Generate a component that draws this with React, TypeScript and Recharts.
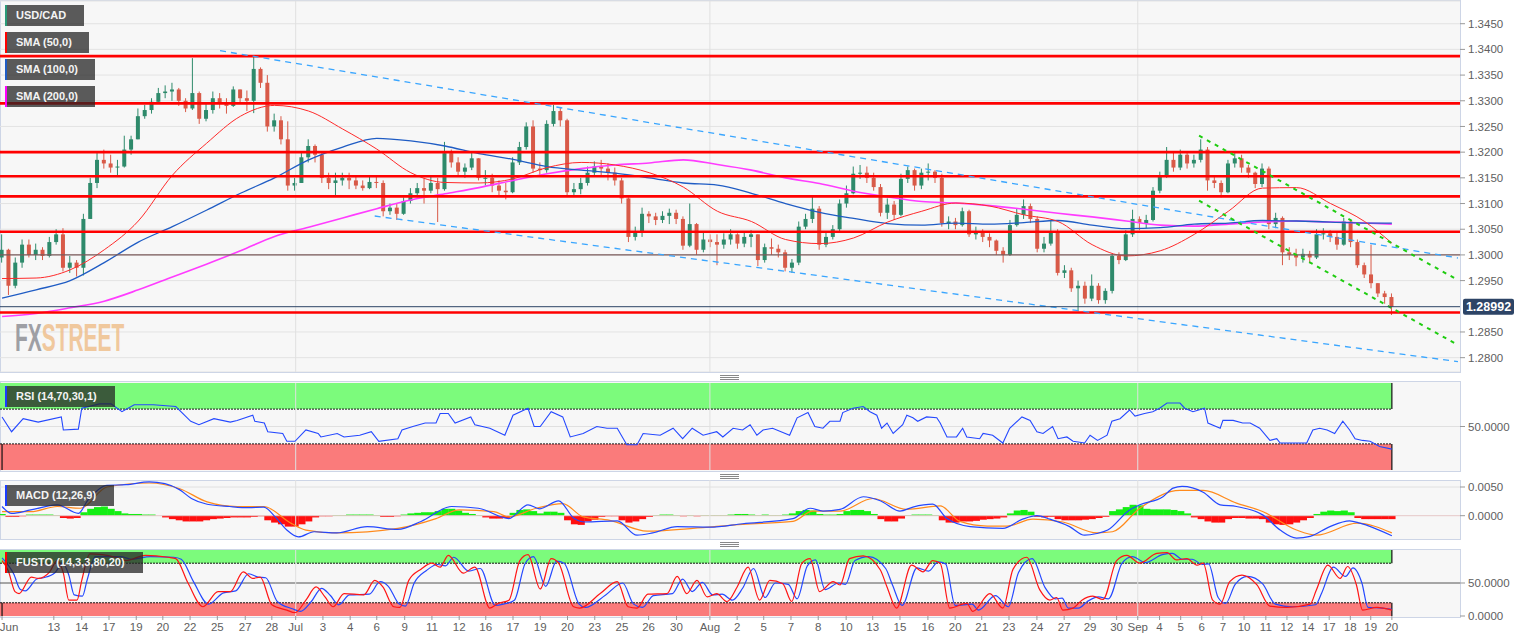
import React from "react";
import {
  ComposedChart,
  Bar,
  Line,
  XAxis,
  YAxis,
  CartesianGrid,
  ReferenceLine,
  ReferenceArea,
} from "recharts";

// ---- price data (4h candles, index = candle number) ----
const OPEN_FIRST = 1.2995;
const CLOSE = [
  1.3010, 1.2940, 1.2985, 1.3020, 1.3000, 1.3010, 1.2998, 1.3025, 1.3040, 1.2975,
  1.2985, 1.2975, 1.3070, 1.3140, 1.3185, 1.3178, 1.3170, 1.3172, 1.3205, 1.3225,
  1.3270, 1.3282, 1.3298, 1.3315, 1.3318, 1.3322, 1.3300, 1.3285, 1.3315, 1.3265,
  1.3282, 1.3305, 1.3295, 1.3290, 1.3322, 1.3305, 1.3300, 1.3362, 1.3335, 1.3250,
  1.3262, 1.3225, 1.3135, 1.3140, 1.3190, 1.3212, 1.3195, 1.3150, 1.3140, 1.3145,
  1.3150, 1.3145, 1.3135, 1.3130, 1.3142, 1.3140, 1.3085, 1.3092, 1.3080, 1.3105,
  1.3120, 1.3130, 1.3125, 1.3140, 1.3128, 1.3198, 1.3180, 1.3162, 1.3170, 1.3188,
  1.3150, 1.3150, 1.3135, 1.3125, 1.3122, 1.3180, 1.3210, 1.3250, 1.3168, 1.3165,
  1.3255, 1.3280, 1.3262, 1.3122, 1.3128, 1.3140, 1.3160, 1.3172, 1.3168, 1.3160,
  1.3145, 1.3110, 1.3035, 1.3045, 1.3080, 1.3075, 1.3068, 1.3076, 1.3082, 1.3070,
  1.3018, 1.3060, 1.3010, 1.3030, 1.3025, 1.3020, 1.3030, 1.3040, 1.3022, 1.3035,
  1.3040, 1.2990, 1.3015, 1.3012, 1.3005, 1.2975, 1.2985, 1.3055, 1.3070, 1.3090,
  1.3020, 1.3035, 1.3050, 1.3100, 1.3120, 1.3158, 1.3160, 1.3150, 1.3132, 1.3082,
  1.3098, 1.3078, 1.3148, 1.3165, 1.3135, 1.3160, 1.3162, 1.3150, 1.3062, 1.3065,
  1.3058, 1.3085, 1.3040, 1.3045, 1.3035, 1.3028, 1.3008, 1.3000, 1.3058, 1.3078,
  1.3095, 1.3070, 1.3012, 1.3022, 1.3045, 1.2965, 1.2970, 1.2935, 1.2940, 1.2915,
  1.2940, 1.2912, 1.2930, 1.2998, 1.2990, 1.3040, 1.3070, 1.3062, 1.3068, 1.3125,
  1.3155, 1.3185, 1.3170, 1.3195, 1.3178, 1.3185, 1.3205, 1.3145, 1.3140, 1.3122,
  1.3178, 1.3188, 1.3170, 1.3160, 1.3138, 1.3168, 1.3060, 1.3072, 1.3005, 1.3000,
  1.2995, 1.3002, 1.2995, 1.3040, 1.3042, 1.3035, 1.3020, 1.3065, 1.3025, 1.2980,
  1.2962, 1.2945, 1.2925, 1.2918, 1.2899,
];
const HIGH = [
  1.3040, 1.3012, 1.2995, 1.3030, 1.3030, 1.3022, 1.3015, 1.3035, 1.3050, 1.3052,
  1.2998, 1.2990, 1.3080, 1.3150, 1.3200, 1.3205, 1.3195, 1.3185, 1.3232, 1.3232,
  1.3285, 1.3292, 1.3305, 1.3325, 1.3330, 1.3335, 1.3325, 1.3305, 1.3383, 1.3318,
  1.3295, 1.3318, 1.3315, 1.3305, 1.3328, 1.3320, 1.3320, 1.3385, 1.3365, 1.3350,
  1.3275, 1.3270, 1.3260, 1.3150, 1.3200, 1.3225, 1.3215, 1.3200, 1.3160, 1.3160,
  1.3160, 1.3160, 1.3155, 1.3145, 1.3155, 1.3152, 1.3145, 1.3100, 1.3100, 1.3112,
  1.3130, 1.3140, 1.3150, 1.3155, 1.3150, 1.3220, 1.3205, 1.3190, 1.3178, 1.3200,
  1.3185, 1.3165, 1.3158, 1.3145, 1.3140, 1.3190, 1.3220, 1.3258, 1.3262, 1.3180,
  1.3262, 1.3292, 1.3288, 1.3265, 1.3140, 1.3150, 1.3172, 1.3182, 1.3185, 1.3178,
  1.3170, 1.3150, 1.3112, 1.3055, 1.3092, 1.3085, 1.3082, 1.3085, 1.3090, 1.3088,
  1.3075, 1.3100, 1.3062, 1.3045, 1.3040, 1.3040, 1.3042, 1.3050, 1.3042, 1.3045,
  1.3048, 1.3040, 1.3022, 1.3032, 1.3020, 1.3010, 1.2992, 1.3065, 1.3080, 1.3113,
  1.3095, 1.3045, 1.3058, 1.3108, 1.3135, 1.3172, 1.3175, 1.3172, 1.3160, 1.3138,
  1.3110, 1.3105, 1.3158, 1.3172, 1.3168, 1.3168, 1.3178, 1.3165, 1.3158, 1.3075,
  1.3072, 1.3092, 1.3088, 1.3055, 1.3050, 1.3042, 1.3030, 1.3015, 1.3068, 1.3090,
  1.3108, 1.3100, 1.3075, 1.3035, 1.3068, 1.3050, 1.2980, 1.2975, 1.2950, 1.2948,
  1.2962, 1.2945, 1.2935, 1.3002, 1.3005, 1.3048, 1.3088, 1.3075, 1.3078, 1.3132,
  1.3162, 1.3210, 1.3200, 1.3205, 1.3200, 1.3195, 1.3225, 1.3210, 1.3155, 1.3145,
  1.3185, 1.3198, 1.3195, 1.3175, 1.3162, 1.3178, 1.3172, 1.3082, 1.3075, 1.3015,
  1.3012, 1.3012, 1.3008, 1.3050, 1.3052, 1.3048, 1.3045, 1.3072, 1.3068, 1.3030,
  1.2985, 1.3020, 1.2945, 1.2930, 1.2925,
];
const LOW = [
  1.2985, 1.2922, 1.2935, 1.2975, 1.2995, 1.2990, 1.2990, 1.2995, 1.3020, 1.2968,
  1.2965, 1.2958, 1.2960, 1.3090, 1.3130, 1.3168, 1.3160, 1.3155, 1.3170, 1.3195,
  1.3225, 1.3265, 1.3275, 1.3295, 1.3305, 1.3300, 1.3290, 1.3278, 1.3282, 1.3255,
  1.3260, 1.3275, 1.3285, 1.3275, 1.3288, 1.3295, 1.3280, 1.3276, 1.3325, 1.3240,
  1.3240, 1.3215, 1.3125, 1.3125, 1.3140, 1.3180, 1.3180, 1.3140, 1.3128, 1.3113,
  1.3135, 1.3128, 1.3128, 1.3125, 1.3128, 1.3130, 1.3075, 1.3078, 1.3068, 1.3078,
  1.3100, 1.3112, 1.3100, 1.3120, 1.3064, 1.3125, 1.3170, 1.3155, 1.3150, 1.3165,
  1.3145, 1.3135, 1.3122, 1.3115, 1.3108, 1.3120, 1.3175, 1.3205, 1.3160, 1.3155,
  1.3160, 1.3250, 1.3250, 1.3115, 1.3115, 1.3118, 1.3135, 1.3155, 1.3155, 1.3145,
  1.3135, 1.3100, 1.3025, 1.3028, 1.3035, 1.3062, 1.3058, 1.3062, 1.3060, 1.3060,
  1.3010, 1.3015, 1.3000, 1.3005, 1.3015, 1.2980, 1.3012, 1.3020, 1.3012, 1.3015,
  1.3015, 1.2978, 1.2985, 1.3000, 1.2995, 1.2968, 1.2965, 1.2980, 1.3050, 1.3062,
  1.3010, 1.3015, 1.3030, 1.3045, 1.3092, 1.3118, 1.3148, 1.3140, 1.3125, 1.3075,
  1.3070, 1.3068, 1.3075, 1.3140, 1.3125, 1.3128, 1.3145, 1.3140, 1.3055, 1.3050,
  1.3050, 1.3055, 1.3035, 1.3030, 1.3025, 1.3015, 1.3000, 1.2985, 1.2998, 1.3055,
  1.3070, 1.3062, 1.3005, 1.3005, 1.3018, 1.2960, 1.2955, 1.2928, 1.2890, 1.2905,
  1.2910, 1.2905, 1.2905, 1.2925, 1.2982, 1.2988, 1.3035, 1.3048, 1.3052, 1.3065,
  1.3120, 1.3150, 1.3162, 1.3165, 1.3168, 1.3170, 1.3180, 1.3125, 1.3130, 1.3112,
  1.3120, 1.3170, 1.3160, 1.3150, 1.3130, 1.3132, 1.3050, 1.3052, 1.2980, 1.2990,
  1.2978, 1.2985, 1.2985, 1.2992, 1.3030, 1.3025, 1.3010, 1.3018, 1.3015, 1.2975,
  1.2955, 1.2935, 1.2918, 1.2905, 1.2883,
];

// moving averages read every 5 candles
const SMA_AT = [0, 5, 10, 15, 20, 25, 30, 35, 40, 45, 50, 55, 60, 65, 70, 75, 80, 85, 90, 95, 100,
  105, 110, 115, 120, 125, 130, 135, 140, 145, 150, 155, 160, 165, 170, 175, 180, 185, 190, 195, 200, 204];
const SMA50 = [1.2954, 1.2955, 1.2971, 1.3010, 1.3066, 1.3155, 1.3217, 1.3270, 1.3291, 1.3280, 1.3245,
  1.3206, 1.3160, 1.3141, 1.3140, 1.3148, 1.3170, 1.3180, 1.3175, 1.3160, 1.3132, 1.3085, 1.3065,
  1.3030, 1.3022, 1.3033, 1.3064, 1.3085, 1.3101, 1.3095, 1.3078, 1.3065, 1.3020, 1.2998, 1.3008,
  1.3040, 1.3085, 1.3130, 1.3131, 1.3100, 1.3065, 1.3023];
const SMA100 = [1.2916, 1.2932, 1.2950, 1.2985, 1.3025, 1.3055, 1.3087, 1.3120, 1.3150, 1.3185, 1.3210,
  1.3227, 1.3222, 1.3212, 1.3197, 1.3186, 1.3172, 1.3165, 1.3159, 1.3150, 1.3140, 1.3136, 1.3120,
  1.3100, 1.3083, 1.3071, 1.3061, 1.3058, 1.3062, 1.3060, 1.3063, 1.3067, 1.3058, 1.3051, 1.3053,
  1.3060, 1.3062, 1.3067, 1.3066, 1.3064, 1.3062, 1.3062];
const SMA200 = [1.2880, 1.2886, 1.2897, 1.2910, 1.2932, 1.2957, 1.2982, 1.3008, 1.3036, 1.3054, 1.3072,
  1.3090, 1.3107, 1.3119, 1.3131, 1.3145, 1.3158, 1.3168, 1.3175, 1.3179, 1.3185, 1.3176, 1.3165,
  1.3150, 1.3139, 1.3124, 1.3113, 1.3104, 1.3101, 1.3096, 1.3089, 1.3081, 1.3074, 1.3066, 1.3058,
  1.3056, 1.3060, 1.3064, 1.3066, 1.3064, 1.3062, 1.3060];

const LEVELS = [1.3387, 1.3295, 1.32, 1.3153, 1.3114, 1.3045, 1.2888];
const ROUND_LEVEL = 1.3;
const LAST_PRICE = 1.28992;
// trend lines: [fromIndex, fromPrice, toIndex, toPrice]
const BLUE_LINES = [
  [32, 1.33975, 213.7, 1.2994],
  [54.7, 1.30757, 213.7, 1.27922],
];
const GREEN_LINES = [
  [175.7, 1.3232, 213.7, 1.2951],
  [175.7, 1.31055, 213.7, 1.28247],
];
// 1.2900 is hidden behind the last-price tag
const PRICE_TICKS = [1.28, 1.285, 1.295, 1.3, 1.305, 1.31, 1.315, 1.32, 1.325, 1.33, 1.335, 1.34, 1.345];

const TICK_AT = [0, 7.6, 11.7, 15.7, 19.7, 23.6, 27.6, 31.6, 35.7, 39.6, 43.1, 47.1, 51.1, 55.0, 59.1,
  63.1, 67.1, 71.0, 75.0, 79.0, 83.0, 87.0, 91.0, 94.9, 99.0, 103.9, 107.9, 111.8, 115.8, 119.8,
  123.9, 127.8, 131.8, 135.9, 139.9, 143.8, 147.8, 151.9, 155.9, 159.7, 163.6, 166.7, 169.9, 173.0,
  176.1, 179.2, 182.3, 185.5, 188.6, 191.7, 194.8, 197.9, 200.9, 204];
const TICK_LABEL = ["Jun", "13", "14", "17", "19", "20", "22", "25", "27", "28", "Jul", "3", "4", "6", "9",
  "11", "12", "16", "17", "19", "20", "23", "25", "26", "30", "Aug", "2", "5", "7", "8",
  "10", "13", "15", "16", "20", "21", "23", "24", "27", "29", "30", "Sep", "4", "5",
  "6", "7", "10", "11", "12", "14", "17", "18", "19", "20"];
const MONTH_AT = [43.1, 103.9, 166.7];

// ---- oscillators: [candle index, value] ----
const RSI = [
  [0, 61], [1.4, 44], [3.1, 59], [5.3, 55], [8.7, 61], [9, 46], [11.2, 47], [11.7, 71], [14.3, 76], [16, 76],
  [17.6, 67], [19.4, 75], [22.2, 75], [25.5, 73], [27.7, 56], [28.9, 52], [31.1, 59], [33.5, 55], [34.5, 57],
  [36.8, 63], [37.1, 56], [38.5, 54], [39, 44], [41.2, 42], [41.8, 33], [43, 33], [44.6, 46], [46.4, 42],
  [46.8, 38], [49.2, 42], [50.2, 38], [52.5, 40], [54.2, 44], [55.3, 33], [58.1, 36], [58.7, 46], [60.3, 50],
  [62.1, 54], [63.7, 54], [64.3, 65], [65.5, 65], [66.5, 54], [68.8, 61], [69.4, 52], [71.6, 48], [73.8, 40],
  [75, 63], [77.2, 71], [78.1, 50], [79, 50], [80.6, 67], [82.3, 61], [83.4, 38], [85.3, 42], [87.3, 50],
  [88.8, 48], [90.3, 48], [91.7, 29], [93.2, 29], [94.1, 42], [96.6, 40], [98.5, 48], [99.9, 36], [101.3, 48],
  [102.9, 40], [104.9, 44], [105.8, 38], [107.3, 48], [108.7, 46], [109.8, 52], [110.8, 40], [111.7, 46],
  [113.1, 48], [115.6, 40], [116.7, 60], [118.3, 66], [119.3, 50], [120.5, 48], [121.5, 56], [123, 56],
  [123.4, 66], [124.9, 71], [126.4, 73], [127.4, 67], [128.4, 63], [129.1, 48], [129.9, 54], [130.8, 42],
  [132.2, 52], [132.8, 63], [133.7, 60], [134.4, 56], [135.7, 61], [137.2, 60], [137.7, 54], [138.7, 38],
  [140.1, 38], [141, 48], [141.6, 38], [143.5, 36], [144, 42], [145.4, 40], [146.9, 31], [147.9, 48],
  [149.7, 61], [150.9, 57], [151.9, 44], [152.8, 42], [154.2, 50], [155, 36], [156.3, 38], [157.2, 33],
  [158.9, 31], [159.7, 40], [160.8, 34], [162.2, 40], [162.9, 56], [164.1, 59], [165.5, 69], [166.3, 62],
  [167.7, 65], [168.9, 67], [169.9, 71], [171, 77], [172.9, 77], [173.6, 71], [174.8, 67], [176.5, 71],
  [177, 54], [178.8, 48], [179.2, 57], [180.7, 57], [182.1, 54], [183.2, 54], [184.6, 48], [186.1, 34],
  [187.1, 36], [187.6, 31], [190, 31], [191.5, 31], [192.4, 46], [193.4, 48], [194.5, 46], [195.6, 42],
  [196.8, 56], [197.8, 46], [198.6, 36], [199.7, 34], [200.8, 33], [202.2, 27], [204, 24],
];
const MACD = [
  [0, 0.0016], [1.4, 0.0004], [4.2, 0.001], [8.1, 0.0019], [11.2, 0.0004], [12.6, 0.0027], [15.4, 0.0053],
  [18.2, 0.0054], [21.6, 0.0059], [23.9, 0.0056], [26.1, 0.0045], [27.8, 0.003], [30.1, 0.002], [33.4, 0.0016],
  [36.2, 0.0014], [38.4, 0.0015], [40.1, -0.0002], [41.8, -0.0025], [43.5, -0.0037], [45.8, -0.0028],
  [49.1, -0.003], [53.6, -0.0019], [58.1, -0.0024], [61.5, -0.001], [66, 0.0016], [69.9, 0.0013],
  [74.4, -0.0005], [77.2, 0.0019], [78.9, 0.0012], [81.7, 0.0026], [83.9, -0.0004], [85.6, -0.0011],
  [90.3, -0.0009], [93.2, -0.0034], [95.5, -0.003], [99.1, -0.0019], [103.9, -0.002], [108.7, -0.0014],
  [116.1, -0.0005], [118.6, 0.0013], [120.5, 0.0008], [123, 0.0011], [126.4, 0.0033], [128.9, 0.0026],
  [131.8, 0.0008], [133.7, 0.0015], [136.6, 0.002], [138.7, -0.0005], [142.1, -0.0019], [146.9, -0.0022],
  [149.8, -0.0006], [151.9, 0], [153.8, -0.0006], [156.7, -0.0019], [158.9, -0.0034], [160.7, -0.0031],
  [162.3, -0.0025], [165.5, 0.001], [167, 0.0019], [170.4, 0.0033], [171.9, 0.0048], [173.2, 0.0051],
  [176.3, 0.0041], [178.8, 0.0019], [181.2, 0.0016], [185.1, 0.0001], [187.6, -0.0025], [190, -0.0039],
  [192, -0.0036], [194.9, -0.0019], [197.8, -0.0009], [199.3, -0.0013], [204, -0.0035],
];
const SIGNAL = [
  [0, 0.0007], [4.2, 0.0007], [8.1, 0.0016], [11.5, 0.0013], [15.4, 0.005], [21.6, 0.0057], [26.1, 0.0047],
  [30.1, 0.0024], [34.5, 0.0016], [38.4, 0.0016], [42.4, -0.0013], [44.6, -0.0025], [49.1, -0.003],
  [58.1, -0.0022], [63.7, -0.0005], [67.1, 0.001], [72.2, 0.0007], [74.4, -0.0002], [78.4, 0.0013],
  [82.3, 0.0021], [85.3, -0.0002], [89.2, -0.0008], [94.7, -0.0027], [101.4, -0.0022], [108.7, -0.0015],
  [116.1, -0.001], [119, 0.0008], [123, 0.0008], [127.8, 0.003], [132.8, 0.0011], [137.7, 0.0017],
  [140.6, -0.001], [144.6, -0.0018], [147.5, -0.0018], [151.3, -0.0006], [155.7, -0.0011], [160.7, -0.003],
  [163, -0.0028], [167, 0.0013], [172.9, 0.0044], [176.3, 0.0044], [181.2, 0.0022], [185.1, 0.0007],
  [190, -0.0025], [192.9, -0.0034], [198.9, -0.0013], [204, -0.003],
];
// histogram per candle, in units of 0.0001
const HIST_E4 = [
  3, -2, -2, -1, 2, 2, 2, 2, 1, -4, -5, -4, 6, 12, 15, 16, 12, 8, 4, 3,
  3, 2, 2, 0, -3, -6, -8, -10, -10, -10, -8, -6, -5, -4, -3, -3, -3, -2, -1, -8,
  -12, -15, -19, -19, -15, -10, -3, -1, -1, 1, 1, 2, 2, 2, 2, 1, -2, -2, -1, 2,
  4, 5, 6, 6, 8, 12, 12, 9, 5, 3, 1, -3, -5, -5, -4, 5, 10, 11, 8, 4,
  7, 7, 5, -8, -15, -16, -10, -7, -2, -1, -1, -8, -12, -10, -6, -2, 1, 2, 2, 1,
  -1, 1, -1, 1, 1, 1, 1, 2, 3, 3, 2, 1, 2, 1, 1, 2, 4, 8, 10, 9,
  3, 2, 2, 3, 8, 10, 10, 8, 3, -6, -10, -10, -5, 1, 2, 2, 2, 1, -8, -12,
  -12, -10, -10, -9, -7, -6, -5, -3, 4, 9, 10, 7, -2, -3, -2, -6, -8, -8, -8, -7,
  -6, -4, -2, 8, 11, 15, 19, 18, 12, 11, 11, 11, 10, 8, 4, -3, -6, -10, -12, -12,
  -6, -4, -4, -5, -5, -6, -12, -15, -16, -15, -12, -8, -4, 3, 7, 9, 8, 9, 6, -4,
  -6, -6, -6, -6, -6,
];
const STOCH_K = [
  [0, 84], [0.9, 69], [1.9, 37], [2.5, 34], [4.3, 59], [5.3, 57], [7, 67], [8.1, 84], [9, 65], [9.8, 24],
  [11, 24], [11.7, 54], [12.9, 94], [16.6, 89], [18.2, 84], [21, 92], [24.4, 89], [25.5, 87], [27.3, 50],
  [29.5, 14], [31.7, 37], [33.5, 37], [35.4, 67], [36.8, 57], [37.9, 59], [39.6, 17], [41.8, 9], [43, 5],
  [44.6, 24], [46.1, 44], [47.4, 29], [48.6, 14], [50.2, 34], [53.1, 32], [54.7, 54], [55.9, 44], [57.5, 14],
  [58.4, 13], [59.7, 54], [61.5, 71], [63.1, 80], [64.3, 74], [65.5, 92], [67.7, 65], [69.4, 74], [71.6, 12],
  [72.8, 19], [74.4, 24], [76, 84], [77.2, 93], [79, 41], [80.6, 87], [81.7, 80], [83.9, 14], [84.8, 12],
  [87.8, 34], [90.3, 52], [91.9, 14], [93.2, 12], [94.8, 33], [97.6, 34], [99.1, 60], [100.5, 34], [102, 54],
  [103.5, 29], [104.9, 34], [106.4, 22], [107.9, 44], [109.5, 74], [111.2, 24], [112.7, 54], [114.6, 49],
  [115.9, 22], [117.4, 80], [118.6, 87], [120, 37], [122, 52], [123, 47], [124.4, 87], [126.4, 91],
  [128.9, 70], [129.9, 44], [131.3, 12], [133.5, 77], [135.2, 67], [136.6, 84], [137.7, 80], [139.1, 12],
  [141.6, 19], [142.5, 7], [145, 34], [146.9, 12], [148.4, 71], [150.4, 89], [152.3, 40], [153.8, 24],
  [154.8, 28], [155.7, 9], [157.2, 12], [158.5, 24], [160.1, 30], [161.6, 25], [163.6, 84], [165.1, 92],
  [167, 80], [169.5, 95], [171, 96], [172.4, 85], [173.9, 87], [175.4, 77], [176.3, 80], [177.7, 24],
  [178.8, 18], [180.2, 52], [182, 62], [184.2, 47], [186.1, 15], [188.6, 13], [192, 18], [192.9, 39],
  [194.6, 77], [196.4, 57], [197.5, 75], [198.8, 47], [199.7, 9], [201.8, 13], [204, 9],
];
const STOCH_D = [
  [0, 88], [1.7, 64], [2.7, 40], [3.4, 38], [5.1, 56], [6.1, 58], [7.8, 66], [8.9, 80], [9.8, 62], [10.6, 32],
  [11.8, 30], [12.5, 55], [13.7, 90], [17.4, 90], [19, 86], [21.8, 90], [25.2, 89], [26.3, 86], [28.1, 52],
  [30.3, 18], [32.5, 35], [34.3, 38], [36.2, 64], [37.6, 59], [38.7, 58], [40.4, 22], [42.6, 11], [43.8, 7],
  [45.4, 22], [46.9, 42], [48.2, 31], [49.4, 17], [51, 32], [53.9, 33], [55.5, 52], [56.7, 45], [58.3, 18],
  [59.2, 15], [60.5, 50], [62.3, 69], [63.9, 78], [65.1, 76], [66.3, 89], [68.5, 68], [70.2, 72], [72.4, 16],
  [73.6, 18], [75.2, 24], [76.8, 80], [78, 90], [79.8, 45], [81.4, 83], [82.5, 80], [84.7, 18], [85.6, 13],
  [88.6, 32], [91.1, 50], [92.7, 18], [94, 13], [95.6, 31], [98.4, 34], [99.9, 56], [101.3, 37], [102.8, 51],
  [104.3, 32], [105.7, 33], [107.2, 24], [108.7, 42], [110.3, 72], [112, 28], [113.5, 50], [115.4, 48],
  [116.7, 26], [118.2, 76], [119.4, 85], [120.8, 40], [122.8, 50], [123.8, 48], [125.2, 84], [127.2, 90],
  [129.7, 72], [130.7, 47], [132.1, 16], [134.3, 73], [136, 68], [137.4, 82], [138.5, 79], [139.9, 16],
  [142.4, 18], [143.3, 9], [145.8, 31], [147.7, 14], [149.2, 66], [151.2, 87], [153.1, 43], [154.6, 26],
  [155.6, 27], [156.5, 12], [158, 12], [159.3, 22], [160.9, 29], [162.4, 26], [164.4, 80], [165.9, 90],
  [167.8, 81], [170.3, 93], [171.8, 95], [173.2, 86], [174.7, 86], [176.2, 78], [177.1, 79], [178.5, 28],
  [179.6, 19], [181, 48], [182.8, 60], [185, 49], [186.9, 18], [189.4, 14], [192.8, 17], [193.7, 35],
  [195.4, 74], [197.2, 60], [198.3, 73], [199.6, 50], [200.5, 13], [202.6, 12], [204, 10],
];

const X_DOMAIN = [-0.3, 214];
const PLOT_W = 1460;
const SLOT = PLOT_W / (X_DOMAIN[1] - X_DOMAIN[0]); // px per candle
const LAST = CLOSE.length - 1;
const FONT = "Arial, 'Liberation Sans', sans-serif";
const AXIS_TICK = { fill: "#606060", fontSize: 11.5, fontFamily: FONT };

// ---- build tables ----
const candles: any[] = CLOSE.map((c, i) => {
  const o = i === 0 ? OPEN_FIRST : CLOSE[i - 1];
  const hi = Math.max(HIGH[i], o, c);
  const lo = Math.min(LOW[i], o, c);
  return { i, o, c, hi, lo, hl: [lo, hi] };
});
SMA_AT.forEach((at, k) => {
  Object.assign(candles[at], { s50: SMA50[k], s100: SMA100[k], s200: SMA200[k] });
});

const byX = (a: any, b: any) => a.i - b.i;
const rsiRows = RSI.map(([i, v]) => ({ i, v }));
const macdRows = [
  ...HIST_E4.map((h, i) => ({ i, h: h / 10000 })),
  ...MACD.map(([i, m]) => ({ i, m })),
  ...SIGNAL.map(([i, s]) => ({ i, s })),
].sort(byX);
const stochRows = [
  ...STOCH_K.map(([i, k]) => ({ i, k })),
  ...STOCH_D.map(([i, d]) => ({ i, d })),
].sort(byX);

function Candle(props: any) {
  const { x, y, width, height, payload } = props;
  if (x == null || y == null || !payload) return null;
  const top = Math.min(y, y + height);
  const h = Math.abs(height);
  const k = h / (payload.hi - payload.lo || 1e-9);
  const yO = top + (payload.hi - payload.o) * k;
  const yC = top + (payload.hi - payload.c) * k;
  const color = payload.c >= payload.o ? "#2e8a6b" : "#d85a48";
  const cx = x + width / 2;
  return (
    <g>
      <line x1={cx} x2={cx} y1={top} y2={top + h} stroke={color} strokeWidth={1} />
      <rect x={x} y={Math.min(yO, yC)} width={width} height={Math.max(1, Math.abs(yO - yC))} fill={color} />
    </g>
  );
}

function HistBar(props: any) {
  const { x, y, width, height, payload } = props;
  if (!payload || payload.h == null || x == null || y == null) return null;
  const cx = x + width / 2;
  return (
    <rect
      x={cx - SLOT / 2}
      y={Math.min(y, y + height)}
      width={SLOT + 0.3}
      height={Math.abs(height)}
      fill={payload.h >= 0 ? "#14ee14" : "#ff0f0f"}
    />
  );
}

function PriceTag(props: any) {
  const vb = props.viewBox || {};
  const x = vb.x + vb.width + 3;
  return (
    <g>
      <rect x={x} y={vb.y - 8} width={51} height={16} rx={2} fill="#2d4466" />
      <text x={x + 25.5} y={vb.y + 4.5} textAnchor="middle" fill="#fff" fontSize={12.5} fontWeight="bold" fontFamily={FONT}>
        {LAST_PRICE.toFixed(5)}
      </text>
    </g>
  );
}

function DateTick(props: any) {
  const { x, y, payload } = props;
  const k = TICK_AT.indexOf(payload.value);
  const label = k >= 0 ? TICK_LABEL[k] : "";
  return (
    <text x={Math.max(x, 9)} y={y + 9} textAnchor="middle" fill="#606060" fontSize={11.5} fontFamily={FONT}>
      {label}
    </text>
  );
}

function Tag({ left, top, width, bar, text }: any) {
  return (
    <div
      style={{
        position: "absolute",
        left,
        top,
        width,
        height: 21,
        background: "rgba(38,38,38,0.75)",
        borderLeft: `2px solid ${bar}`,
        color: "#f4f4f4",
        fontFamily: FONT,
        fontWeight: "bold",
        fontSize: 11,
        lineHeight: "21px",
        paddingLeft: 9,
        boxSizing: "border-box",
        whiteSpace: "nowrap",
        zIndex: 3,
      }}
    >
      {text}
    </div>
  );
}

function Frame({ top, height }: any) {
  return (
    <div
      style={{
        position: "absolute",
        left: 0,
        top,
        width: 1461,
        height,
        border: "1px solid #cdd5e6",
        background: "#f7f7f7",
        boxSizing: "border-box",
      }}
    />
  );
}

function Handle({ top }: any) {
  return (
    <div style={{ position: "absolute", left: 720, top, width: 19, height: 5, borderTop: "1px solid #888", borderBottom: "1px solid #888", boxSizing: "border-box" }}>
      <div style={{ marginTop: 1, borderTop: "1px solid #888" }} />
    </div>
  );
}

const monthLines = (y0: number, y1: number) =>
  MONTH_AT.map((m) => (
    <ReferenceLine key={"m" + m} segment={[{ x: m, y: y0 }, { x: m, y: y1 }]} stroke="#e0e0e0" strokeWidth={1} />
  ));

function zoneLines(lo: number, hi: number, top: number, bottom: number) {
  return [
    <ReferenceArea key="za" x1={X_DOMAIN[0]} x2={LAST} y1={hi} y2={top} fill="#7cfb7c" fillOpacity={1} stroke="none" />,
    <ReferenceArea key="zb" x1={X_DOMAIN[0]} x2={LAST} y1={bottom} y2={lo} fill="#fa7b7b" fillOpacity={1} stroke="none" />,
    <ReferenceLine key="zc" segment={[{ x: X_DOMAIN[0], y: hi }, { x: LAST, y: hi }]} stroke="#111" strokeDasharray="2 1" />,
    <ReferenceLine key="zd" segment={[{ x: X_DOMAIN[0], y: lo }, { x: LAST, y: lo }]} stroke="#111" strokeDasharray="2 1" />,
    <ReferenceLine key="ze" segment={[{ x: LAST, y: hi }, { x: LAST, y: top }]} stroke="#111" strokeWidth={1.2} />,
    <ReferenceLine key="zf" segment={[{ x: LAST, y: bottom }, { x: LAST, y: lo }]} stroke="#111" strokeWidth={1.2} />,
    <ReferenceLine key="zg" segment={[{ x: 0, y: bottom }, { x: 0, y: lo }]} stroke="#111" strokeWidth={1.2} />,
  ];
}

const pct = (v: number) => v.toFixed(4);

export default function App() {
  return (
    <div style={{ position: "absolute", left: 0, top: 0, width: 1531, height: 643, background: "#fff", overflow: "hidden" }}>
      <Frame top={0} height={373} />
      <Frame top={381} height={91} />
      <Frame top={480} height={60} />
      <Frame top={549} height={69} />
      <Handle top={375} />
      <Handle top={474} />
      <Handle top={542} />

      {/* main price panel */}
      <div style={{ position: "absolute", left: 0, top: 0 }}>
        <ComposedChart width={1531} height={372} data={candles} margin={{ top: 1, right: 0, left: 0, bottom: 0 }}>
          <CartesianGrid vertical={false} stroke="#e3e3e3" />
          <XAxis dataKey="i" type="number" domain={X_DOMAIN} allowDataOverflow hide />
          <YAxis
            orientation="right"
            width={71}
            domain={[1.27721, 1.34942]}
            allowDataOverflow
            ticks={PRICE_TICKS}
            tickFormatter={pct}
            tick={AXIS_TICK}
            tickSize={5}
            tickMargin={3}
            tickLine={{ stroke: "#999" }}
            axisLine={false}
          />
          {monthLines(1.27721, 1.34942)}
          <Line dataKey="s200" type="monotone" connectNulls dot={false} stroke="#ff3cff" strokeWidth={1.6} isAnimationActive={false} />
          <Line dataKey="s100" type="monotone" connectNulls dot={false} stroke="#1f5cc4" strokeWidth={1.3} isAnimationActive={false} />
          <Line dataKey="s50" type="monotone" connectNulls dot={false} stroke="#ff2a2a" strokeWidth={1} isAnimationActive={false} />
          <Bar dataKey="hl" barSize={4} shape={<Candle />} isAnimationActive={false} />
          {LEVELS.map((v) => (
            <ReferenceLine key={v} y={v} stroke="#ff0000" strokeWidth={2.6} />
          ))}
          <ReferenceLine y={ROUND_LEVEL} stroke="#7a5a5a" strokeWidth={1.3} />
          {BLUE_LINES.map(([x1, y1, x2, y2], k) => (
            <ReferenceLine key={"b" + k} segment={[{ x: x1, y: y1 }, { x: x2, y: y2 }]} stroke="#3aa6ff" strokeWidth={1.3} strokeDasharray="6 5" />
          ))}
          {GREEN_LINES.map(([x1, y1, x2, y2], k) => (
            <ReferenceLine key={"g" + k} segment={[{ x: x1, y: y1 }, { x: x2, y: y2 }]} stroke="#1fcc10" strokeWidth={2} strokeDasharray="4 5" />
          ))}
          <ReferenceLine y={LAST_PRICE} stroke="#2d4466" strokeWidth={1} label={(p: any) => <PriceTag {...p} />} />
        </ComposedChart>
      </div>

      {/* RSI */}
      <div style={{ position: "absolute", left: 0, top: 383 }}>
        <ComposedChart width={1531} height={87} data={rsiRows} margin={{ top: 0, right: 0, left: 0, bottom: 0 }}>
          <XAxis dataKey="i" type="number" domain={X_DOMAIN} allowDataOverflow hide />
          <YAxis orientation="right" width={71} domain={[0, 100]} ticks={[0, 50]} tickFormatter={pct} tick={AXIS_TICK}
            tickSize={5} tickMargin={3} tickLine={{ stroke: "#999" }} axisLine={false} />
          {zoneLines(30, 70, 100, 0)}
          <ReferenceLine y={50} stroke="#e0e0e0" />
          {monthLines(0, 100)}
          <Line dataKey="v" type="linear" dot={false} stroke="#2448ff" strokeWidth={1.1} isAnimationActive={false} />
        </ComposedChart>
      </div>

      {/* MACD */}
      <div style={{ position: "absolute", left: 0, top: 480 }}>
        <ComposedChart width={1531} height={59} data={macdRows} margin={{ top: 0, right: 0, left: 0, bottom: 0 }}>
          <XAxis dataKey="i" type="number" domain={X_DOMAIN} allowDataOverflow hide />
          <YAxis orientation="right" width={71} domain={[-0.00406, 0.00622]} allowDataOverflow ticks={[0, 0.005]}
            tickFormatter={pct} tick={AXIS_TICK} tickSize={5} tickMargin={3} tickLine={{ stroke: "#999" }} axisLine={false} />
          <ReferenceLine y={0.005} stroke="#e0e0e0" />
          <ReferenceLine y={0} stroke="#e6c8c8" />
          {monthLines(-0.00406, 0.00622)}
          <Bar dataKey="h" barSize={4} shape={<HistBar />} isAnimationActive={false} />
          <Line dataKey="s" type="monotone" connectNulls dot={false} stroke="#ff8a1c" strokeWidth={1.2} isAnimationActive={false} />
          <Line dataKey="m" type="monotone" connectNulls dot={false} stroke="#2448ff" strokeWidth={1.2} isAnimationActive={false} />
        </ComposedChart>
      </div>

      {/* FUSTO */}
      <div style={{ position: "absolute", left: 0, top: 550 }}>
        <ComposedChart width={1531} height={92} data={stochRows} margin={{ top: 0, right: 0, left: 0, bottom: 0 }}>
          <XAxis
            dataKey="i"
            type="number"
            domain={X_DOMAIN}
            allowDataOverflow
            ticks={TICK_AT}
            interval={0}
            height={26}
            axisLine={false}
            tickLine={{ stroke: "#999" }}
            tickSize={4}
            tick={<DateTick />}
          />
          <YAxis orientation="right" width={71} domain={[0, 100]} ticks={[0, 50]} tickFormatter={pct} tick={AXIS_TICK}
            tickSize={5} tickMargin={3} tickLine={{ stroke: "#999" }} axisLine={false} />
          {zoneLines(20, 80, 100, 0)}
          <ReferenceLine y={50} stroke="#555" />
          {monthLines(0, 100)}
          <Line dataKey="d" type="monotone" connectNulls dot={false} stroke="#2448ff" strokeWidth={1.2} isAnimationActive={false} />
          <Line dataKey="k" type="monotone" connectNulls dot={false} stroke="#ff1414" strokeWidth={1.2} isAnimationActive={false} />
        </ComposedChart>
      </div>

      {/* legends */}
      <Tag left={5} top={5} width={79} bar="#2a9a78" text="USD/CAD" />
      <Tag left={5} top={32} width={84} bar="#ff0000" text="SMA (50,0)" />
      <Tag left={5} top={59} width={90} bar="#1f5cc4" text="SMA (100,0)" />
      <Tag left={5} top={86} width={90} bar="#ff00ff" text="SMA (200,0)" />
      <Tag left={5} top={386} width={110} bar="#1a3cff" text="RSI (14,70,30,1)" />
      <Tag left={5} top={485} width={109} bar="#1a3cff" text="MACD (12,26,9)" />
      <Tag left={5} top={552} width={138} bar="#ff0000" text="FUSTO (14,3,3,80,20)" />

      {/* watermark */}
      <div
        style={{
          position: "absolute",
          left: 15,
          top: 318,
          fontFamily: FONT,
          fontWeight: "bold",
          fontSize: 38,
          lineHeight: "40px",
          transform: "scaleX(0.55)",
          transformOrigin: "0 0",
          whiteSpace: "nowrap",
          opacity: 0.85,
          zIndex: 2,
        }}
      >
        <span style={{ color: "#8f9096" }}>FX</span>
        <span style={{ color: "#efc08e" }}>STREET</span>
      </div>
    </div>
  );
}
